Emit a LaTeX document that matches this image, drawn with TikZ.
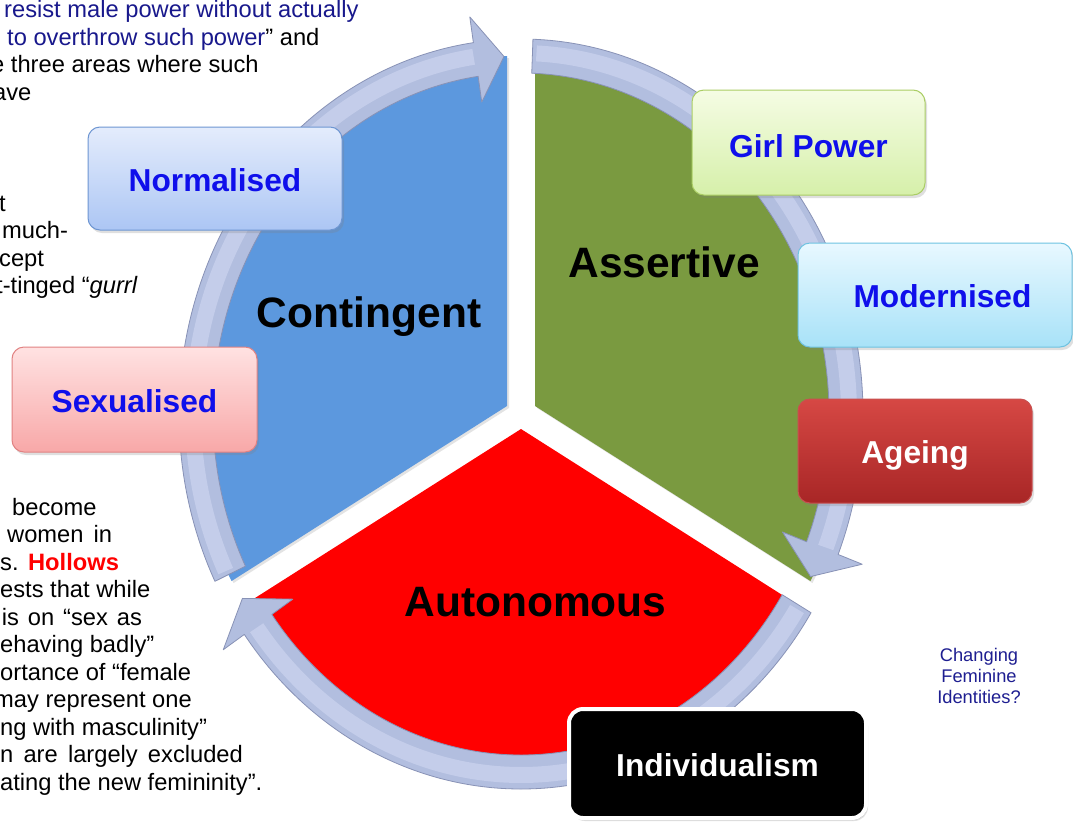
\documentclass[tikz,border=0pt]{standalone}
\usepackage{fontspec}
\setmainfont{Liberation Sans}
\usetikzlibrary{shadows}
\definecolor{navyq}{RGB}{24,24,140}
\definecolor{navyc}{RGB}{30,30,145}
\definecolor{secblue}{RGB}{92,152,222}
\definecolor{secgreen}{RGB}{122,154,64}
\definecolor{secred}{RGB}{255,0,0}
\definecolor{ringfill}{RGB}{178,190,223}
\definecolor{ringlight}{RGB}{196,205,234}
\definecolor{ringline}{RGB}{136,146,182}
\definecolor{lblblue}{RGB}{15,15,235}
\begin{document}
\begin{tikzpicture}[x=1pt,y=1pt,
  body/.style={font=\fontsize{23.7}{27.5}\selectfont, anchor=base west, inner sep=0pt},
  big/.style={font=\fontsize{42.5}{50}\selectfont\bfseries, anchor=base, inner sep=0pt},
  sector/.style={drop shadow={opacity=0.22, shadow xshift=2pt, shadow yshift=-2pt}},
  ringarrow/.style={fill=ringfill, draw=ringline, line width=0.8pt, line join=round},
  ringshine/.style={draw=ringlight, line width=16pt, line cap=butt},
  boxbase/.style={rounded corners=12pt, line width=1pt, inner sep=0pt,
    font=\fontsize{31.7}{36}\selectfont\bfseries, text height=25pt, text depth=0pt,
    drop shadow={opacity=0.25, shadow xshift=2pt, shadow yshift=-3pt}},
  bluebox/.style={boxbase, top color={rgb,255:red,228;green,236;blue,252}, bottom color={rgb,255:red,172;green,198;blue,244}, draw={rgb,255:red,110;green,150;blue,210}, text=lblblue},
  pinkbox/.style={boxbase, top color={rgb,255:red,255;green,226;blue,226}, bottom color={rgb,255:red,248;green,168;blue,168}, draw={rgb,255:red,225;green,130;blue,130}, text=lblblue},
  greenbox/.style={boxbase, top color={rgb,255:red,245;green,252;blue,228}, bottom color={rgb,255:red,214;green,240;blue,170}, draw={rgb,255:red,170;green,205;blue,100}, text=lblblue},
  cyanbox/.style={boxbase, top color={rgb,255:red,232;green,248;blue,255}, bottom color={rgb,255:red,168;green,226;blue,248}, draw={rgb,255:red,110;green,195;blue,225}, text=lblblue},
  redbox/.style={boxbase, top color={rgb,255:red,214;green,72;blue,68}, bottom color={rgb,255:red,168;green,38;blue,38}, draw={rgb,255:red,200;green,80;blue,80}, text=white},
  blackbox/.style={boxbase, rounded corners=14pt, fill=black, draw=white, line width=4pt, text=white,
    drop shadow={opacity=0.45, shadow xshift=1pt, shadow yshift=-2pt}}
]
\useasboundingbox (0,0) rectangle (1073,-825);
\fill[white] (0,0) rectangle (1073,-825);

% ---- sectors ----
\coordinate (C) at (521,-414);
\coordinate (vb) at (507,-406);
\coordinate (vg) at (535,-406);
\coordinate (vr) at (521,-429);
\fill[sector, fill=secblue] (vb) -- ++(210:318 and 350) arc[start angle=210, end angle=90, x radius=318, y radius=350] -- cycle;
\fill[sector, fill=secgreen] (vg) -- ++(90:318 and 350) arc[start angle=90, end angle=-30, x radius=318, y radius=350] -- cycle;
\fill[sector, fill=secred] (vr) -- ++(330:318 and 350) arc[start angle=330, end angle=210, x radius=318, y radius=350] -- cycle;

% ---- ring arrows ----
\begin{scope}[shift={(C)}]
\filldraw[ringarrow] (206.5:342 and 375) arc[start angle=206.5, end angle=98, x radius=342, y radius=375]
  -- (98:368 and 401) -- (93:325 and 358) -- (98:282 and 315) -- (98:308 and 341)
  arc[start angle=98, end angle=206.5, x radius=308, y radius=341] -- cycle;
\draw[ringshine] (205.8:328 and 361) arc[start angle=205.8, end angle=98.3, x radius=328, y radius=361];
\filldraw[ringarrow] (88:342 and 375) arc[start angle=88, end angle=-22, x radius=342, y radius=375]
  -- (-22:368 and 401) -- (-27:325 and 358) -- (-22:282 and 315) -- (-22:308 and 341)
  arc[start angle=-22, end angle=88, x radius=308, y radius=341] -- cycle;
\draw[ringshine] (87.3:328 and 361) arc[start angle=87.3, end angle=-21.7, x radius=328, y radius=361];
\filldraw[ringarrow] (328:342 and 375) arc[start angle=328, end angle=216, x radius=342, y radius=375]
  -- (216:368 and 401) -- (211:325 and 358) -- (216:282 and 315) -- (216:308 and 341)
  arc[start angle=216, end angle=328, x radius=308, y radius=341] -- cycle;
\draw[ringshine] (327.3:328 and 361) arc[start angle=327.3, end angle=216.3, x radius=328, y radius=361];
\end{scope}

% ---- sector labels ----
\node[big] (contingent) at (369,-327) {Contingent};
\node[big] (assertive) at (664,-277) {Assertive};
\node[big] (autonomous) at (535.5,-616.5) {Autonomous};

% ---- boxes ----
\node[bluebox, minimum width=254pt, minimum height=103pt] (normalised) at (215,-178.5) {Normalised};
\node[pinkbox, minimum width=245pt, minimum height=105pt] (sexualised) at (134.5,-399.5) {Sexualised};
\node[greenbox, minimum width=233pt, minimum height=105pt] (girlpower) at (808.5,-142.5) {\raisebox{-2pt}{Girl Power}};
\node[cyanbox, minimum width=274pt, minimum height=104pt] (modernised) at (935,-295) {\hspace*{15pt}Modernised};
\node[redbox, minimum width=234pt, minimum height=104pt] (ageing) at (915,-451) {Ageing};
\node[blackbox, minimum width=297pt, minimum height=109pt] (individualism) at (717.5,-763.5) {Individualism};

% ---- side text ----
\node[body, text=navyq] (t1) at (4,-17.5) {resist male power without actually};
\node[body] (t2) at (7,-45) {\textcolor{navyq}{to overthrow such power}” and};
\node[body] (t3) at (-9,-72.5) {e three areas where such};
\node[body] (t4) at (-7,-100) {ave};

\node[body] (m1) at (-1,-211) {t};
\node[body] (m2) at (2,-238.5) {much-};
\node[body] (m3) at (-1,-266) {cept};
\node[body] (m4) at (-4,-293.5) {t-tinged “\textit{gurrl}};

\node[body] (b1) at (12,-515) {become};
\node[body] (b2) at (7,-542.5) {\makebox[105pt][s]{women in}};
\node[body] (b3) at (0,-570) {s.\hspace{9.5pt}\textcolor{red}{\bfseries Hollows}};
\node[body] (b4) at (0,-597.5) {ests that while};
\node[body] (b5) at (1.7,-625) {\makebox[140pt][s]{is on “sex as}};
\node[body] (b6) at (0,-652.5) {ehaving badly”};
\node[body] (b7) at (0,-680) {ortance of “female};
\node[body] (b8) at (-6,-707.5) {may represent one};
\node[body] (b9) at (0,-735) {ng with masculinity”};
\node[body] (b10) at (0,-762.5) {\makebox[242.7pt][s]{n are largely excluded}};
\node[body] (b11) at (0,-790) {ating the new femininity”.};

\node[font=\fontsize{18.3}{21}\selectfont, text=navyc, align=center, anchor=north, inner sep=0pt] (cfi) at (979,-648.5) {Changing\\Feminine\\Identities?};
\end{tikzpicture}
\end{document}
